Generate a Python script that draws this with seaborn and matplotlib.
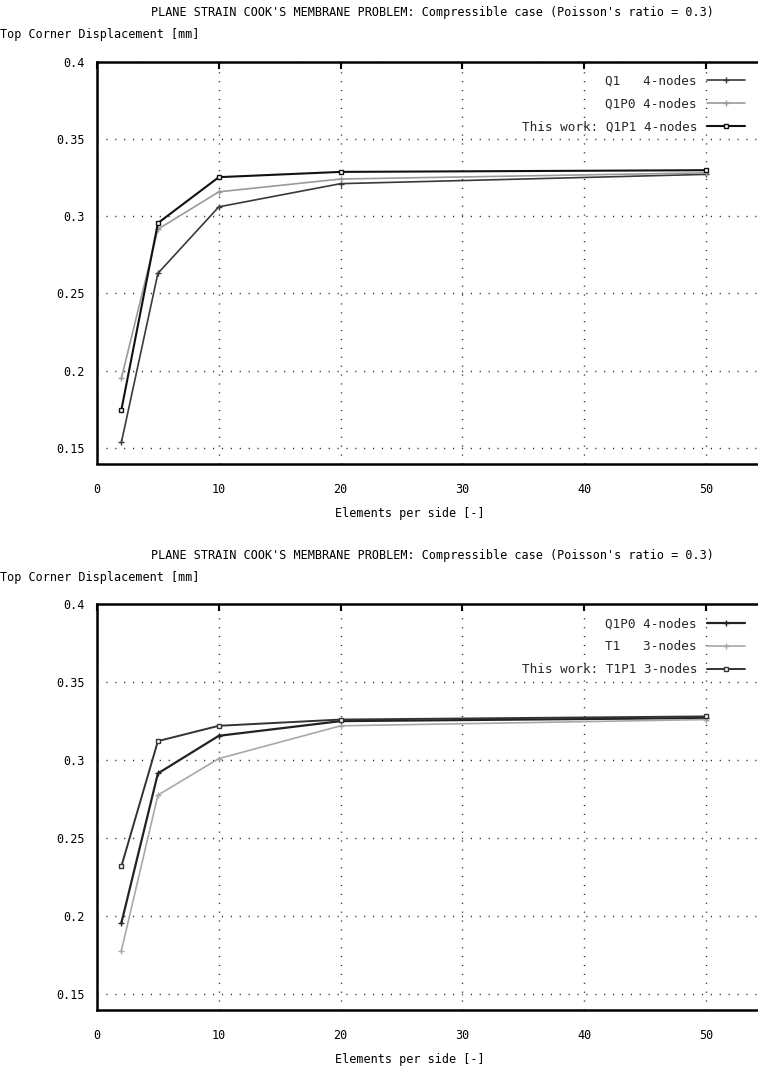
import matplotlib

matplotlib.use("Agg")

import matplotlib.pyplot as plt
import pandas as pd
import seaborn as sns


ELEMENTS = [2, 5, 10, 20, 50]

# top panel: Q1P1 comparison (4-node quads)
Q1_4 = [0.1536, 0.263, 0.306, 0.321, 0.327]
Q1P0_4 = [0.195, 0.2915, 0.3157, 0.324, 0.328]
Q1P1_4 = [0.1746, 0.2955, 0.3252, 0.3286, 0.3297]

# bottom panel: T1P1 comparison (3-node triangles)
Q1P0_B = [0.1957, 0.2915, 0.3156, 0.325, 0.327]
T1_3 = [0.178, 0.2776, 0.301, 0.322, 0.326]
T1P1_3 = [0.232, 0.3122, 0.322, 0.326, 0.328]

TOP_LABELS = ["Q1   4-nodes", "Q1P0 4-nodes", "This work: Q1P1 4-nodes"]
BOTTOM_LABELS = ["Q1P0 4-nodes", "T1   3-nodes", "This work: T1P1 3-nodes"]

X_TICKS = [0, 10, 20, 30, 40, 50]
Y_TICKS = [0.15, 0.2, 0.25, 0.3, 0.35, 0.4]
Y_TICK_LABELS = ["0.15", "0.2", "0.25", "0.3", "0.35", "0.4"]

TITLE = "PLANE STRAIN COOK'S MEMBRANE PROBLEM: Compressible case (Poisson's ratio = 0.3)"
Y_LABEL = "Top Corner Displacement [mm]"
X_LABEL = "Elements per side [-]"

W, H = 758, 1068
FONT = "DejaVu Sans Mono"
FS = 8.5


def px(x, y):
    return x / W, 1 - y / H


def draw_panel(fig, rect, series, labels, styles, top_px, bottom_px):
    ax = fig.add_axes(rect)
    for values, label, (color, marker, lw) in zip(series, labels, styles):
        frame = pd.DataFrame({"n": ELEMENTS, "u": values})
        sns.lineplot(
            data=frame, x="n", y="u", ax=ax, color=color, linewidth=lw,
            marker=marker, markersize=4.5 if marker == "+" else 3.5,
            markerfacecolor="white" if marker == "s" else color,
            markeredgecolor=color, markeredgewidth=1.0, label=label,
        )
    ax.set_xlim(0, 55)
    ax.set_ylim(0.14, 0.40)
    ax.set_xticks(X_TICKS)
    ax.set_yticks(Y_TICKS)
    ax.set_yticklabels(Y_TICK_LABELS)
    ax.set_xlabel("")
    ax.set_ylabel("")
    ax.grid(True, color="#222222", linewidth=1.0, linestyle=(0, (0.8, 5.6)))
    ax.tick_params(direction="in", length=5, width=1.5, top=True, right=True,
                   labelsize=FS, colors="black")
    ax.tick_params(axis="x", pad=14)
    ax.tick_params(axis="y", pad=9)
    for lab in ax.get_xticklabels() + ax.get_yticklabels():
        lab.set_family(FONT)
    for side in ["left", "bottom", "top"]:
        ax.spines[side].set_linewidth(1.8)
        ax.spines[side].set_color("black")
    ax.spines["right"].set_visible(False)

    handles, labs = ax.get_legend_handles_labels()
    ax.legend(
        handles, labs, loc="upper right", bbox_to_anchor=px(750, top_px + 8),
        bbox_transform=fig.transFigure, frameon=False, markerfirst=False,
        handlelength=3.0, handletextpad=0.8, labelspacing=0.8,
        borderaxespad=0, prop={"family": FONT, "size": FS + 0.6},
    )

    fig.text(*px(432, top_px - 49), TITLE, ha="center", va="center",
             family=FONT, fontsize=FS, color="black")
    fig.text(*px(0, top_px - 27), Y_LABEL, ha="left", va="center",
             family=FONT, fontsize=FS, color="black")
    fig.text(*px(410, bottom_px + 50), X_LABEL, ha="center", va="center",
             family=FONT, fontsize=FS, color="black")
    return ax


def main():
    sns.set_style("white")
    plt.rcParams["font.family"] = [FONT, "DejaVu Sans"]

    fig = plt.figure(figsize=(W / 100, H / 100), dpi=100)
    fig.patch.set_facecolor("white")

    left = 97 / W
    width = (767 - 97) / W

    top_styles = [("#3a3a3a", "+", 1.2), ("#9a9a9a", "+", 1.2), ("#111111", "s", 1.5)]
    draw_panel(
        fig, [left, 1 - 463.5 / H, width, (463.5 - 61.5) / H],
        [Q1_4, Q1P0_4, Q1P1_4], TOP_LABELS, top_styles, 61.5, 463.5,
    )

    bottom_styles = [("#222222", "+", 1.6), ("#a8a8a8", "+", 1.2), ("#333333", "s", 1.4)]
    draw_panel(
        fig, [left, 1 - 1010 / H, width, (1010 - 604) / H],
        [Q1P0_B, T1_3, T1P1_3], BOTTOM_LABELS, bottom_styles, 604, 1010,
    )

    fig.savefig("out.png", dpi=100)
    plt.close(fig)


if __name__ == "__main__":
    main()
